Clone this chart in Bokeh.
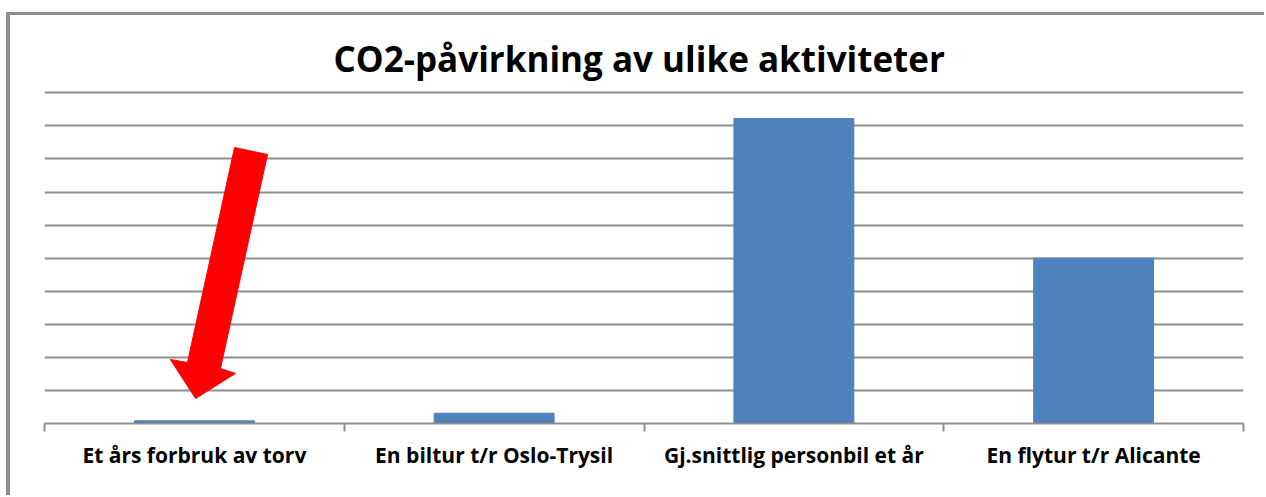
from bokeh.plotting import figure
from bokeh.models import Range1d, FixedTicker, Grid, LinearAxis, ColumnDataSource, Div, Spacer
from bokeh.layouts import column, row
from bokeh.embed import file_html
from bokeh.resources import INLINE

# ---- data ----
categories = ["Et års forbruk av torv", "En biltur t/r Oslo-Trysil",
              "Gj.snittlig personbil et år", "En flytur t/r Alicante"]
values = [0.08, 0.31, 9.22, 5.0]
grid_values = list(range(0, 11))
title_text = "CO2-påvirkning av ulike aktiviteter"

# ---- derived positions (category centres and boundaries) ----
x_pos = [i + 0.5 for i in range(len(categories))]
bounds = list(range(len(categories) + 1))

GREY = "#8e8e8e"
FONT = "Open Sans"

fig = figure(width=1252, height=479,
             x_range=Range1d(0, len(categories)), y_range=Range1d(0, 10.1),
             output_backend="svg", toolbar_location=None,
             x_axis_location=None, y_axis_location=None,
             min_border_left=34, min_border_right=19,
             min_border_top=74, min_border_bottom=71,
             title=title_text)
# remove default grids, keep only horizontal lines at fixed values
fig.center = [r for r in fig.center if not isinstance(r, Grid)]
fig.outline_line_color = None
fig.background_fill_color = "white"
fig.border_fill_color = "white"

fig.title.align = "left"
fig.title.offset = 289
fig.title.text_font = FONT
fig.title.text_font_size = "35px"
fig.title.text_font_style = "bold"
fig.title.text_color = "black"
fig.title.standoff = 15

grid = Grid(dimension=1, ticker=FixedTicker(ticks=grid_values),
            grid_line_color=GREY, grid_line_width=2)
fig.add_layout(grid)

src = ColumnDataSource(dict(x=x_pos, top=values))
fig.vbar(x="x", top="top", width=0.4, bottom=0, source=src,
         fill_color="#4f81bd", line_color="#4f81bd", line_width=1)

xaxis = LinearAxis(ticker=FixedTicker(ticks=x_pos, minor_ticks=bounds),
                   major_label_overrides={x: c for x, c in zip(x_pos, categories)})
xaxis.axis_line_color = GREY
xaxis.axis_line_width = 2
xaxis.major_tick_line_color = None
xaxis.major_tick_out = 0
xaxis.major_tick_in = 0
xaxis.minor_tick_line_color = GREY
xaxis.minor_tick_line_width = 2
xaxis.minor_tick_out = 8
xaxis.minor_tick_in = 0
xaxis.major_label_text_font = FONT
xaxis.major_label_text_font_size = "21px"
xaxis.major_label_text_font_style = "bold"
xaxis.major_label_text_color = "black"
xaxis.major_label_standoff = 9
fig.add_layout(xaxis, "below")

# red annotation arrow (data space, pointing at the first bar)
arrow_x = [0.634, 0.744, 0.587, 0.637, 0.504, 0.420, 0.477]
arrow_y = [8.346, 8.134, 1.663, 1.512, 0.756, 1.935, 1.845]
fig.patch(arrow_x, arrow_y, fill_color="#ff0000", line_color="#ff0000", line_width=1)

# grey frame lines (top and left edge of the picture)
top_line = Div(text="", width=1258, height=3, margin=0,
               styles={"background-color": GREY})
left_line = Div(text="", width=4, height=480, margin=0,
                styles={"background-color": GREY})

p = column(Spacer(height=12, margin=0),
           row(Spacer(width=6, margin=0),
               column(top_line, row(left_line, fig, spacing=0), spacing=0),
               spacing=0),
           spacing=0)

open("out.html", "w").write(file_html(p, INLINE))
